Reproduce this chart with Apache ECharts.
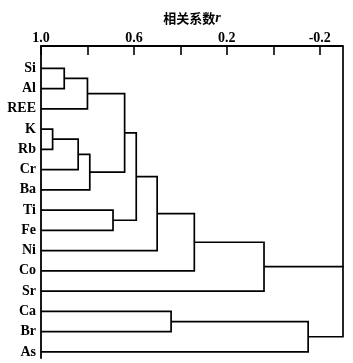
<!DOCTYPE html>
<html>
<head>
<meta charset="utf-8">
<script src="https://cdn.jsdelivr.net/npm/echarts@6/dist/echarts.min.js"></script>
<style>
  html, body { margin: 0; padding: 0; background: #fff; }
</style>
</head>
<body>
<div id="main" style="width: 353px; height: 363px;"></div>
<script>
// leaves, top to bottom
const leaves = ['Si', 'Al', 'REE', 'K', 'Rb', 'Cr', 'Ba', 'Ti', 'Fe', 'Ni', 'Co', 'Sr', 'Ca', 'Br', 'As'];

// merges: node ids 0..14 are leaves, merge k gets id 15 + k
const mergeLeft  = [0, 15, 3, 17, 18, 16, 7, 20, 22, 23, 24, 12, 26, 25];
const mergeRight = [1, 2, 4, 5, 6, 19, 8, 21, 9, 10, 11, 13, 14, 27];
const mergeR     = [0.90, 0.80, 0.95, 0.84, 0.79, 0.64, 0.69, 0.59, 0.50, 0.34, 0.04, 0.44, -0.15, -0.30];

const tickValues = [1.0, 0.8, 0.6, 0.4, 0.2, 0.0, -0.2];
const labelValues = [1.0, 0.6, 0.2, -0.2];

// node positions: leaves sit at r = 1, merges at their r, y = mean of children
const nodeR = leaves.map(() => 1.0);
const nodeY = leaves.map((_, i) => i);
mergeR.forEach((r, k) => {
  nodeR.push(r);
  nodeY.push((nodeY[mergeLeft[k]] + nodeY[mergeRight[k]]) / 2);
});

const mergeData = mergeR.map((r, k) => [r, nodeY[15 + k], k]);
const rootIndex = mergeR.length - 1;

let chart = echarts.init(document.getElementById('main'));
let option = {
  animation: false,
  grid: { left: 41, right: 10, top: 46, bottom: 5 },
  xAxis: {
    type: 'value',
    position: 'top',
    inverse: true,
    min: -0.3,
    max: 1.0,
    name: '{a|相关系数}{b|r}',
    nameLocation: 'middle',
    nameGap: 21,
    nameTextStyle: {
      rich: {
        a: { fontFamily: 'Noto Sans CJK SC', fontWeight: 'bold', fontSize: 13, color: '#000' },
        b: { fontFamily: 'Liberation Serif', fontWeight: 'bold', fontStyle: 'italic', fontSize: 14, color: '#000' }
      }
    },
    splitLine: { show: false },
    axisLine: { onZero: false, lineStyle: { color: '#000', width: 1.8 } },
    axisTick: {
      inside: true,
      length: 9,
      customValues: tickValues,
      lineStyle: { color: '#000', width: 1.6 }
    },
    axisLabel: {
      customValues: labelValues,
      margin: 1,
      formatter: v => v.toFixed(1),
      fontFamily: 'Liberation Serif',
      fontWeight: 'bold',
      fontSize: 14,
      color: '#000'
    }
  },
  yAxis: {
    type: 'value',
    inverse: true,
    min: -1.1,
    max: 14.3,
    splitLine: { show: false },
    axisLine: { show: true, onZero: false, lineStyle: { color: '#000', width: 1.8 } },
    axisTick: { show: false },
    axisLabel: {
      customValues: leaves.map((_, i) => i),
      formatter: v => leaves[Math.round(v)],
      margin: 5,
      fontFamily: 'Liberation Serif',
      fontWeight: 'bold',
      fontSize: 14,
      color: '#000'
    }
  },
  series: [
    {
      type: 'custom',
      data: mergeData,
      encode: { x: 0, y: 1 },
      clip: false,
      renderItem: function (params, api) {
        const k = api.value(2);
        const a = mergeLeft[k], b = mergeRight[k];
        const m = api.coord([mergeR[k], 0])[0];
        const pa = api.coord([nodeR[a], nodeY[a]]);
        const pb = api.coord([nodeR[b], nodeY[b]]);
        const style = { stroke: '#000', lineWidth: 1.7, fill: null };
        const children = [{
          type: 'polyline',
          shape: { points: [pa, [m, pa[1]], [m, pb[1]], pb] },
          style: style
        }];
        if (k === rootIndex) {
          children.push({
            type: 'line',
            shape: { x1: m, y1: params.coordSys.y, x2: m, y2: pa[1] },
            style: style
          });
        }
        return { type: 'group', children: children };
      }
    }
  ]
};

option && chart.setOption(option);
</script>
</body>
</html>
